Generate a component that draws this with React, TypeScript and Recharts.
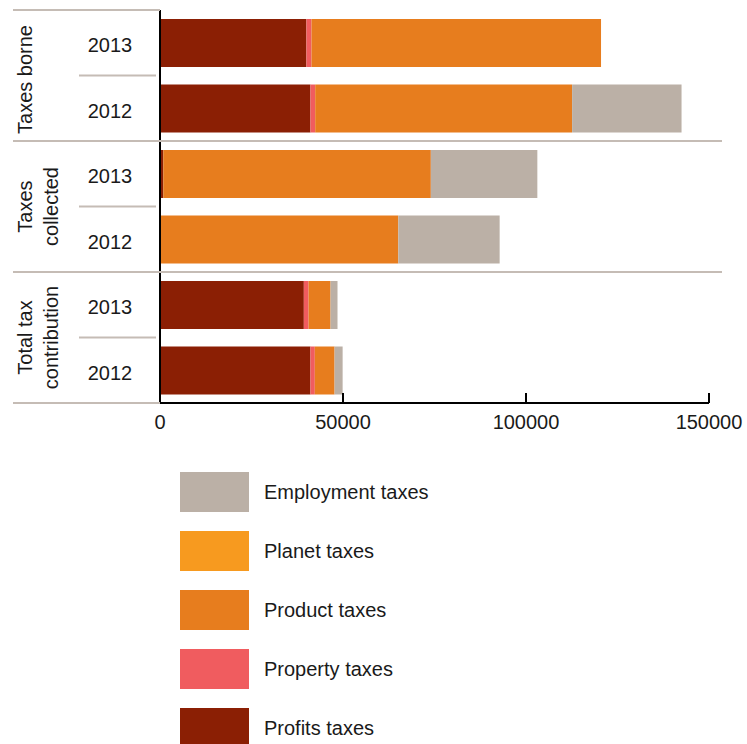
import { BarChart, Bar, XAxis, YAxis, Legend } from "recharts";

// rows, top to bottom
const groups = ["Taxes borne", "Taxes collected", "Total tax contribution"];
const groupLines = [["Taxes borne"], ["Taxes", "collected"], ["Total tax", "contribution"]];
const years = ["2013", "2012", "2013", "2012", "2013", "2012"];

const profitsTaxes = [40000, 41100, 900, 0, 39300, 41100];
const propertyTaxes = [1400, 1300, 0, 0, 1300, 1200];
const planetTaxes = [0, 0, 0, 0, 0, 0];
const productTaxes = [79100, 70200, 73100, 65100, 6000, 5400];
const employmentTaxes = [0, 29900, 29100, 27700, 1900, 2200];

const xTicks = [0, 50000, 100000, 150000];

// stack order, left to right
const series = [
    { key: "profits", name: "Profits taxes", color: "#8B1F04" },
    { key: "property", name: "Property taxes", color: "#F05C5F" },
    { key: "planet", name: "Planet taxes", color: "#F79A1F" },
    { key: "product", name: "Product taxes", color: "#E77D1E" },
    { key: "employment", name: "Employment taxes", color: "#BBB0A6" },
];
const legendOrder = ["employment", "planet", "product", "property", "profits"];

const data = years.map((year, i) => ({
    row: `${groups[Math.floor(i / 2)]} ${year}`,
    year,
    profits: profitsTaxes[i],
    property: propertyTaxes[i],
    planet: planetTaxes[i],
    product: productTaxes[i],
    employment: employmentTaxes[i],
}));

const W = 747;
const H = 744;
const TOP = 10;
const AXIS_Y = 403;
const PLOT_LEFT = 160;
const FONT = "'Liberation Sans', Arial, Helvetica, sans-serif";
const GRID = "#C5BCB5";
const band = (AXIS_Y - TOP) / years.length;

function RowTick(props: any) {
    const { y, index, payload } = props;
    const top = y - band / 2;
    const isFirst = index % 2 === 0;
    const gi = Math.floor(index / 2);
    const lines = groupLines[gi];
    const gCenter = top + band;
    return (
        <g>
            {isFirst ? (
                <line x1={13} x2={index === 0 ? PLOT_LEFT : 722} y1={top} y2={top} stroke={GRID} strokeWidth={2} />
            ) : (
                <line x1={79} x2={156} y1={top} y2={top} stroke={GRID} strokeWidth={2} />
            )}
            {index === years.length - 1 && (
                <line x1={13} x2={PLOT_LEFT} y1={y + band / 2} y2={y + band / 2} stroke={GRID} strokeWidth={2} />
            )}
            <text x={110} y={y} dy={9.5} textAnchor="middle" fontSize={20} fill="#1a1a1a" fontFamily={FONT}>
                {payload.value.split(" ").pop()}
            </text>
            {isFirst && (
                <text
                    transform={`translate(${lines.length === 1 ? 32 : 45}, ${gCenter + (gi === 0 ? 4 : 0)}) rotate(-90)`}
                    textAnchor="middle"
                    fontSize={20}
                    fill="#1a1a1a"
                    fontFamily={FONT}
                >
                    {lines.map((l, li) => (
                        <tspan key={l} x={0} y={(li - (lines.length - 1) / 2) * 26}>
                            {l}
                        </tspan>
                    ))}
                </text>
            )}
        </g>
    );
}

function renderLegend() {
    const items = legendOrder.map((k) => series.find((s) => s.key === k)!);
    return (
        <div style={{ fontFamily: FONT }}>
            {items.map((s) => (
                <div key={s.key} style={{ display: "flex", alignItems: "center", height: 40, marginBottom: 19 }}>
                    <div style={{ width: 69, height: 40, background: s.color }} />
                    <span style={{ marginLeft: 15, fontSize: 20, color: "#1a1a1a" }}>{s.name}</span>
                </div>
            ))}
        </div>
    );
}

export default function App() {
    return (
        <div style={{ width: W, height: H, background: "#fff" }}>
            <style>{"body{margin:0}"}</style>
            <BarChart
                width={W}
                height={H}
                data={data}
                layout="vertical"
                barSize={48}
                margin={{ top: TOP, right: 38, left: 10, bottom: H - AXIS_Y - 30 }}
            >
                <XAxis
                    type="number"
                    domain={[0, 150000]}
                    ticks={xTicks}
                    height={30}
                    axisLine={{ stroke: "#000", strokeWidth: 2 }}
                    tickLine={{ stroke: "#000", strokeWidth: 2 }}
                    tickSize={-10}
                    tickMargin={22}
                    tick={{ fontSize: 20, fill: "#1a1a1a", fontFamily: FONT }}
                />
                <YAxis
                    type="category"
                    dataKey="row"
                    width={150}
                    axisLine={{ stroke: "#000", strokeWidth: 2 }}
                    tickLine={false}
                    tick={<RowTick />}
                    interval={0}
                />
                {series.map((s) => (
                    <Bar key={s.key} dataKey={s.key} name={s.name} stackId="a" fill={s.color} isAnimationActive={false} />
                ))}
                <Legend
                    layout="vertical"
                    align="center"
                    verticalAlign="middle"
                    content={renderLegend}
                    wrapperStyle={{ top: 472, left: 180, width: 300, height: 290 }}
                />
            </BarChart>
        </div>
    );
}
